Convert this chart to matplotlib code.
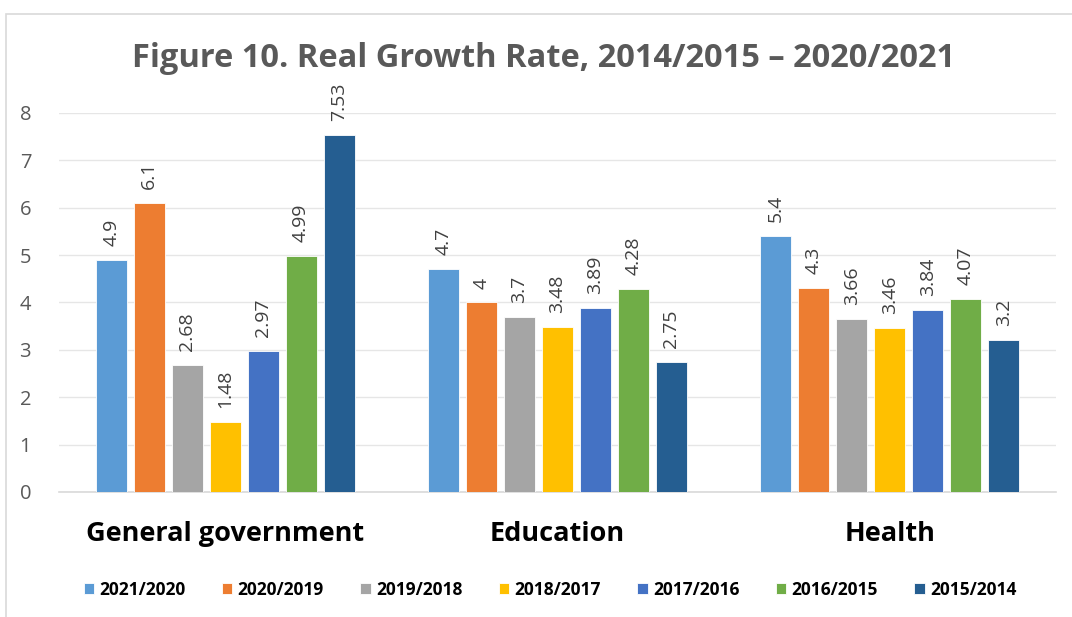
import numpy as np
import matplotlib.pyplot as plt
from matplotlib.patches import Rectangle

plt.rcParams['font.family'] = ['Open Sans', 'DejaVu Sans']

categories = ['General government', 'Education', 'Health']
series = ['2021/2020', '2020/2019', '2019/2018', '2018/2017', '2017/2016', '2016/2015', '2015/2014']
v_2021_2020 = [4.9, 4.7, 5.4]
v_2020_2019 = [6.1, 4, 4.3]
v_2019_2018 = [2.68, 3.7, 3.66]
v_2018_2017 = [1.48, 3.48, 3.46]
v_2017_2016 = [2.97, 3.89, 3.84]
v_2016_2015 = [4.99, 4.28, 4.07]
v_2015_2014 = [7.53, 2.75, 3.2]
values = [v_2021_2020, v_2020_2019, v_2019_2018, v_2018_2017, v_2017_2016, v_2016_2015, v_2015_2014]
colors = ['#5B9BD5', '#ED7D31', '#A5A5A5', '#FFC000', '#4472C4', '#70AD47', '#255E91']

fig = plt.figure(figsize=(10.72, 6.17), dpi=100)
# chart frame
fig.patches.append(Rectangle((6 / 1072, -0.05), 1.2, 1 - 14 / 617 + 0.05, transform=fig.transFigure,
                             facecolor='none', edgecolor='#d9d9d9', linewidth=1.2, zorder=-1))

ax = fig.add_axes([0.055, 0.2026, 0.930, 0.6143])
ax.patch.set_alpha(0)
x = np.arange(len(categories))
slot = 0.8 / len(series)
width = 0.093
for i, (name, vals, c) in enumerate(zip(series, values, colors)):
    pos = x - 0.4 + slot * (i + 0.5)
    bars = ax.bar(pos, vals, width, color=c, edgecolor='white', linewidth=0.6, label=name, zorder=3)
    ax.bar_label(bars, labels=[f'{v:g}' for v in vals], rotation=90, padding=10,
                 fontsize=14, color='#404040')

ax.set_xlim(-0.5, 2.5)
ax.set_ylim(0, 8)
ax.set_yticks(range(0, 9))
ax.grid(axis='y', color='#e6e6e6', linewidth=1, zorder=0)
for s in ['left', 'right', 'top']:
    ax.spines[s].set_visible(False)
ax.spines['bottom'].set_color('#d9d9d9')
ax.spines['bottom'].set_linewidth(1.2)
ax.tick_params(axis='y', length=0, pad=20, labelsize=14.5, labelcolor='#595959')
ax.tick_params(axis='x', length=0, pad=21)
ax.set_xticks(x)
ax.set_xticklabels(categories, fontsize=19.5, fontweight='bold', color='black')

fig.text(0.507, 0.905, 'Figure 10. Real Growth Rate, 2014/2015 \u2013 2020/2021', ha='center', va='center',
         fontsize=23.5, fontweight='bold', color='#595959')

fig.legend(loc='center', bbox_to_anchor=(0.513, 0.044), ncol=7, frameon=False,
           prop={'weight': 'bold', 'size': 12.5}, handlelength=0.6, handleheight=0.6,
           handletextpad=0.3, columnspacing=2.1)

fig.savefig('out.png', dpi=100)
